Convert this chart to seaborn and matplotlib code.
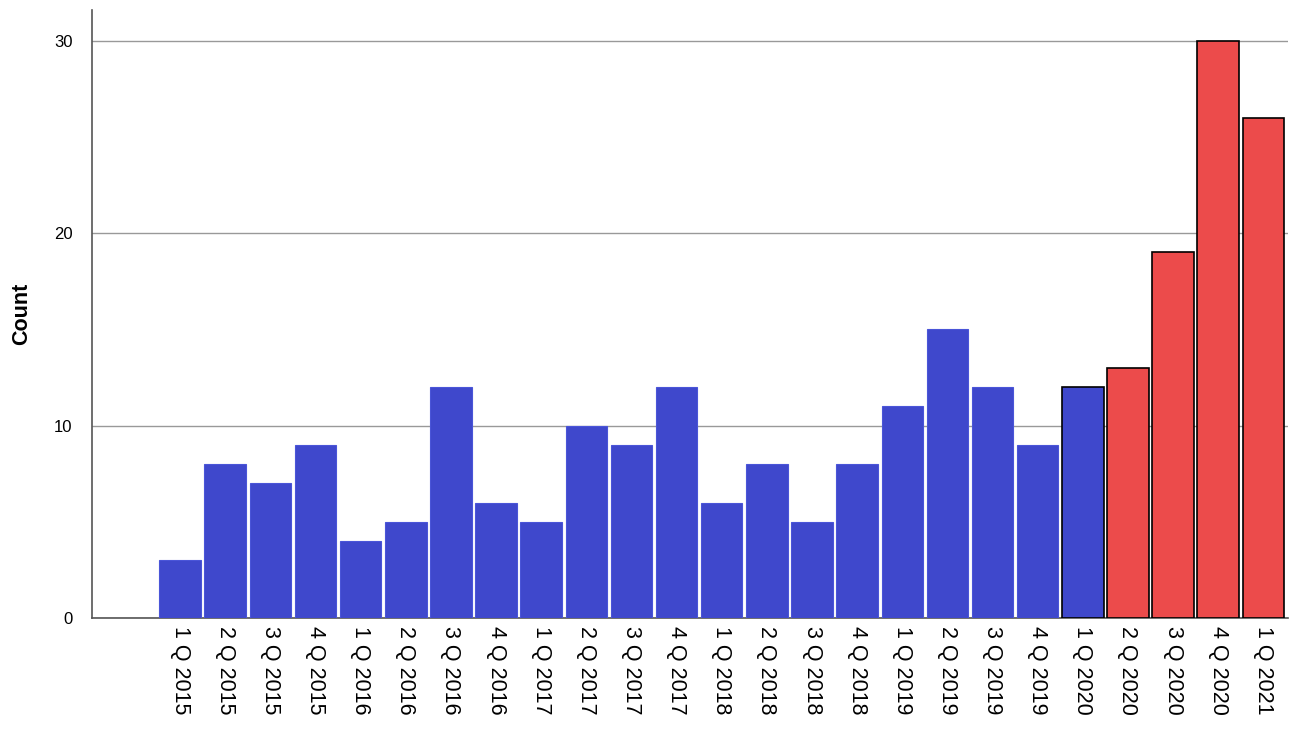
import matplotlib
matplotlib.use('Agg')
import matplotlib.pyplot as plt
import seaborn as sns
import pandas as pd

quarters = ['1 Q 2015', '2 Q 2015', '3 Q 2015', '4 Q 2015',
            '1 Q 2016', '2 Q 2016', '3 Q 2016', '4 Q 2016',
            '1 Q 2017', '2 Q 2017', '3 Q 2017', '4 Q 2017',
            '1 Q 2018', '2 Q 2018', '3 Q 2018', '4 Q 2018',
            '1 Q 2019', '2 Q 2019', '3 Q 2019', '4 Q 2019',
            '1 Q 2020', '2 Q 2020', '3 Q 2020', '4 Q 2020',
            '1 Q 2021']
counts = [3, 8, 7, 9, 4, 5, 12, 6, 5, 10, 9, 12, 6, 8, 5, 8, 11, 15, 12, 9,
          12, 13, 19, 30, 26]
# periods from 2020 on get a black outline, the later ones are red
highlight = ['1 Q 2020', '2 Q 2020', '3 Q 2020', '4 Q 2020', '1 Q 2021']
red_quarters = ['2 Q 2020', '3 Q 2020', '4 Q 2020', '1 Q 2021']

blue = '#3F48CC'
red = '#EC4B4B'

df = pd.DataFrame({'quarter': quarters, 'count': counts})
palette = {q: (red if q in red_quarters else blue) for q in quarters}

sns.set_style('white')
plt.rcParams['font.family'] = ['Liberation Sans', 'DejaVu Sans']

fig = plt.figure(figsize=(12.89, 7.39), dpi=100)
ax = fig.add_axes([0.0714, 0.1637, 0.928, 0.8228])

sns.barplot(data=df, x='quarter', y='count', hue='quarter', palette=palette,
            legend=False, width=0.92, ax=ax, saturation=1)

for patch, q in zip(ax.patches, quarters):
    if q in highlight:
        patch.set_edgecolor('black')
        patch.set_linewidth(1.2)
    else:
        patch.set_edgecolor('#4a55d8')
        patch.set_linewidth(0.8)
    patch.set_zorder(3)

ax.set_xlim(-1.95, 24.55)
ax.set_ylim(0, 31.6)
ax.set_yticks([0, 10, 20, 30])
ax.yaxis.grid(True, color='#999999', linewidth=1)
ax.set_axisbelow(True)

ax.tick_params(axis='x', labelsize=15.5, length=0, rotation=270, pad=6,
               labelcolor='black')
ax.tick_params(axis='y', labelsize=12, length=0, pad=14, labelcolor='black')
ax.set_xlabel('')
ax.set_ylabel('Count', fontsize=15.5, fontweight='bold', labelpad=16,
              color='black')

for s in ['top', 'right']:
    ax.spines[s].set_visible(False)
for s in ['left', 'bottom']:
    ax.spines[s].set_color('#555555')
    ax.spines[s].set_linewidth(1.2)

fig.savefig('out.png', dpi=100)
